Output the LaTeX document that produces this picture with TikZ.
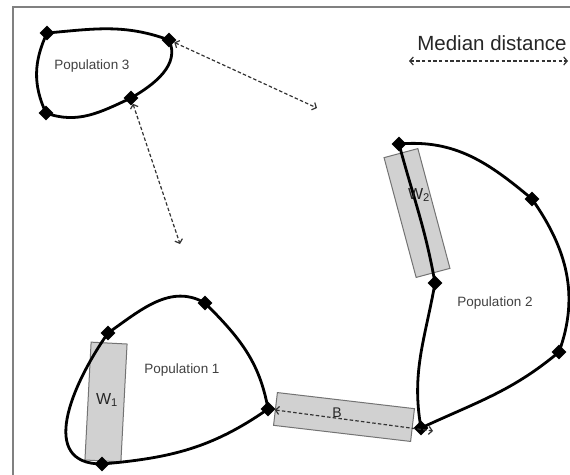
\documentclass[tikz,border=0pt]{standalone}
\usepackage{fontspec}
\setmainfont{Liberation Sans}
\usetikzlibrary{shapes.geometric,arrows.meta}

\begin{document}
\begin{tikzpicture}[x=1pt,y=-1pt,
	vtx/.style={diamond,fill=black,inner sep=0pt,minimum size=15pt},
	popline/.style={line width=2.8pt},
	winbox/.style={draw=black!55,fill=black!18,line width=1pt,inner sep=0pt},
	dist/.style={draw=black!80,line width=1.2pt,dash pattern=on 3.5pt off 2.2pt,
		{Straight Barb[length=3.5pt,width=8pt]}-{Straight Barb[length=3.5pt,width=8pt]}},
	poplabel/.style={text=black!75,font=\fontsize{13.5pt}{16pt}\selectfont}]
	\useasboundingbox (0,0) rectangle (570,474);
	%% frame
	\draw[black!50,line width=2pt] (13,480) -- (13,7) -- (580,7);
	%% boxes
	\node[winbox,minimum width=36pt,minimum height=118pt,rotate=-3] (w1box) at (106,402) {};
	\node[winbox,minimum width=35pt,minimum height=124pt,rotate=15] (w2box) at (417,213) {};
	\node[winbox,minimum width=138pt,minimum height=33pt,rotate=-6.7] (bbox) at (344,417) {};
	%% vertices
	\node[vtx] (p3a) at (47,33) {};
	\node[vtx] (p3b) at (169,40) {};
	\node[vtx] (p3c) at (131,98) {};
	\node[vtx] (p3d) at (46,113) {};
	\node[vtx] (p1a) at (108,333) {};
	\node[vtx] (p1b) at (205,303) {};
	\node[vtx] (p1c) at (268,409) {};
	\node[vtx] (p1d) at (102,464) {};
	\node[vtx] (p2a) at (399,144) {};
	\node[vtx] (p2b) at (532,199) {};
	\node[vtx] (p2c) at (559,352) {};
	\node[vtx] (p2d) at (421,428) {};
	\node[vtx] (p2e) at (435,283) {};
	%% population outlines
	\draw[popline] (p3a.center) to[out=5,in=-200] (p3b.center) to[out=-65,in=30] (p3c.center)
		to[out=-155,in=-20] (p3d.center) to[out=115,in=-115] (p3a.center);
	\draw[popline] (p1a.center) to[out=35,in=-210] (p1b.center) to[out=-45,in=100] (p1c.center)
		to[out=-145,in=5] (p1d.center) to[out=-180,in=-125,looseness=1.25] (p1a.center);
	\draw[popline] (p2a.center) to[out=5,in=-220] (p2b.center) to[out=-55,in=70] (p2c.center)
		to[out=-140,in=25] (p2d.center) to[out=100,in=-100] (p2e.center) to[out=100,in=-75] (p2a.center);
	%% labels
	\node[poplabel] (pop3) at (92,66) {Population 3};
	\node[poplabel] (pop1) at (182,370) {Population 1};
	\node[poplabel] (pop2) at (495,303) {Population 2};
	\node[font=\fontsize{16pt}{18pt}\selectfont,text=black!85] (w1) at (107,400) {W\textsubscript{1}};
	\node[font=\fontsize{16pt}{18pt}\selectfont,text=black!85] (w2) at (419,195) {W\textsubscript{2}};
	\node[font=\fontsize{14pt}{16pt}\selectfont,text=black!85] (blabel) at (337,413) {B};
	\node[font=\fontsize{20.5pt}{24pt}\selectfont,text=black!85] (median) at (492,43) {Median distance};
	%%% distances
	\coordinate (md-l) at (409,61);
	\coordinate (md-r) at (568,61);
	\coordinate (d1-end) at (317,108);
	\coordinate (d2-end) at (180,244);
	\coordinate (b-end) at (433,431);
	\draw[dist] (md-l) -- (md-r);
	\draw[dist] (p3b) -- (d1-end);
	\draw[dist] (p3c) -- (d2-end);
	\draw[dist] (p1c) -- (b-end);
\end{tikzpicture}
\end{document}
